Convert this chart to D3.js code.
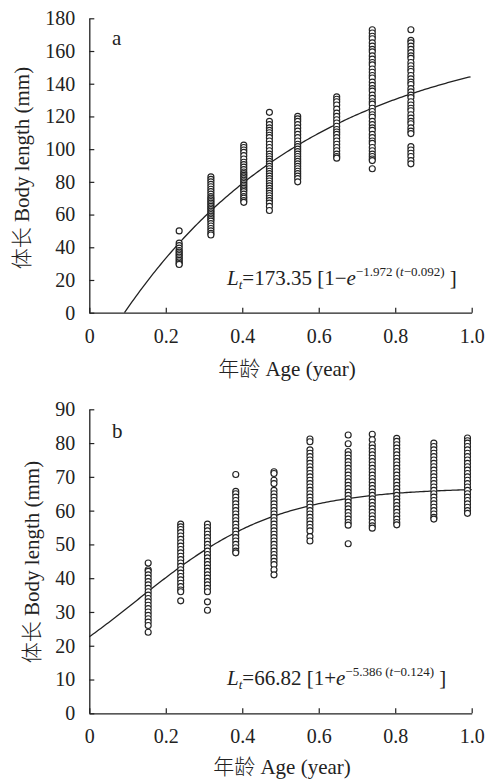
<!DOCTYPE html>
<html>
<head>
<meta charset="utf-8">
<script src="https://cdn.jsdelivr.net/npm/d3@7"></script>
<style>
  body { margin: 0; background: #fff; }
  svg text { font-family: "Liberation Serif", "Noto Sans CJK SC", serif; fill: #222; }
  .cjk { font-family: "Noto Sans CJK SC", sans-serif; font-weight: 300; }
</style>
</head>
<body>
<svg id="chart" width="487" height="781"></svg>
<script>
// x ticks shared by both panels
var ageTicks = [0, 0.2, 0.4, 0.6, 0.8, 1.0];
var ageTickLabels = ["0", "0.2", "0.4", "0.6", "0.8", "1.0"];

// panel a
var agesA = [0.235, 0.318, 0.404, 0.471, 0.545, 0.647, 0.740, 0.841];
var lengthsA = [
  [50, 42.5, 41, 39.5, 38, 37, 36, 35, 34, 33, 32, 31, 30, 29.5],
  [83, 81.5, 80, 78.5, 77, 75.5, 74, 72.5, 71, 70, 69, 68, 67, 66, 65, 64, 63, 62, 61, 60, 59, 58, 57, 56, 54.5, 53, 51.5, 50, 48.5, 47.5],
  [102.5, 101, 99.5, 98, 96, 94, 92, 90.5, 89, 87.5, 86, 85, 84, 83, 82, 81, 80, 79, 78, 77, 76, 75, 74, 72.5, 71, 70, 68.5, 67.5],
  [122.5, 117, 115, 113, 111.5, 110, 108.5, 107, 105, 103, 101, 99, 97, 95.5, 94, 92.5, 91, 89.5, 88, 86.5, 85, 83.5, 82, 80.5, 79, 77.5, 76, 74.5, 73, 71.5, 70, 68.5, 67, 65, 62.5],
  [120, 118.5, 117, 115, 113, 111, 109, 107, 105, 103, 101.5, 100, 98.5, 97, 95.5, 94, 92.5, 91, 89.5, 88, 86.5, 85, 83.5, 82, 80],
  [132, 130.5, 129, 127, 124.5, 122, 120, 118, 116, 114, 112, 110.5, 109, 107, 105, 103, 101, 99, 97, 95.5, 94.5],
  [173, 171, 169, 167.5, 165, 163, 161, 159.5, 157, 155, 153, 151.5, 149, 147, 145, 143.5, 141, 139, 137, 135.5, 133, 131, 129, 127.5, 125, 123, 121, 119.5, 117, 115, 113, 111.5, 109, 107, 105, 103.5, 101, 99, 97, 95.5, 94, 93, 88],
  [173, 166.5, 165, 163, 161, 159, 157, 155.5, 153, 151, 149, 147.5, 145, 143, 141, 139.5, 137, 135, 133, 131.5, 129, 127, 125, 123.5, 121, 119, 117, 115.5, 113, 111, 109.5, 101.5, 99.5, 97.5, 95.5, 93, 91]
];
var yTicksA = [0, 20, 40, 60, 80, 100, 120, 140, 160, 180];
// von Bertalanffy fit printed on panel a
var vbA = { Linf: 173.35, k: 1.972, t0: 0.092 };

// panel b
var agesB = [0.154, 0.239, 0.309, 0.383, 0.483, 0.577, 0.677, 0.740, 0.804, 0.901, 0.989];
var lengthsB = [
  [44.5, 42.5, 42, 41, 40, 39, 38, 37, 36, 35, 34, 33, 32, 31, 30, 29, 28, 27, 26, 24],
  [56, 55.2, 54.4, 53.5, 52.5, 51.5, 50.5, 49.5, 48.5, 47.5, 46.5, 45.5, 44.5, 43.5, 42.5, 41.5, 40.5, 39.5, 38.5, 37.5, 36.5, 36, 33.3],
  [56, 55, 54, 53, 52, 51, 50, 49, 48, 47, 46, 45, 44, 43, 42, 41, 40, 39, 38, 37, 36, 33, 30.5],
  [70.7, 65.7, 65, 64, 63, 62, 61, 60, 59, 58, 57, 56, 55, 54, 53, 52, 51, 50, 49, 48, 47.5],
  [71.5, 71, 69, 68, 66, 65, 64, 63, 62, 61, 60, 59, 58, 57, 56, 55, 54, 53, 52, 51, 50, 49, 48, 47, 46, 45, 44, 42.5, 41],
  [81.2, 80.4, 78, 77, 76, 75, 74, 73, 72, 71, 70, 69, 68, 67, 66, 65, 64, 63, 62, 61, 60, 59, 58, 57, 56, 55, 54, 52.3, 51],
  [82.4, 79.8, 77.5, 76.5, 75.5, 74.5, 73.5, 72.5, 71.5, 70.5, 69.5, 68.5, 67.5, 66.5, 65.5, 64.5, 63.5, 62.5, 61.5, 60.5, 59.5, 58.5, 57.5, 56.5, 55.7, 50.2],
  [82.6, 81, 79.5, 78.5, 77.5, 76.5, 75.5, 74.5, 73.5, 72.5, 71.5, 70.5, 69.5, 68.5, 67.5, 66.5, 65.5, 64.5, 63.5, 62.5, 61.5, 60.5, 59.5, 58.5, 57.5, 56.5, 55.5, 54.8],
  [81.4, 80.5, 79.5, 78.5, 77.5, 76.5, 75.5, 74.5, 73.5, 72.5, 71.5, 70.5, 69.5, 68.5, 67.5, 66.5, 65.5, 64.5, 63.5, 62.5, 61.5, 60.5, 59.5, 58.5, 57.5, 56.5, 55.8],
  [80, 79, 78, 77, 76, 75, 74, 73, 72, 71, 70, 69, 68, 67, 66, 65, 64, 63, 62, 61, 60, 59, 58, 57.5],
  [81.5, 80.7, 80, 79, 78, 77, 76, 75, 74, 73, 72, 71, 70, 69, 68, 67, 66, 65, 64, 63, 62, 61, 60, 59.2]
];
var yTicksB = [0, 10, 20, 30, 40, 50, 60, 70, 80, 90];
// logistic fit printed on panel b
var lgB = { Linf: 66.82, k: 5.386, t0: 0.124 };

(function () {
  var svg = d3.select("#chart");

  function vonB(p) {
    return function (t) { return p.Linf * (1 - Math.exp(-p.k * (t - p.t0))); };
  }
  function logistic(p) {
    return function (t) { return p.Linf / (1 + Math.exp(-p.k * (t - p.t0))); };
  }

  // mixed chinese / latin title
  function title(sel, zh, en) {
    sel.append("tspan").attr("class", "cjk").text(zh);
    sel.append("tspan").text(" " + en);
  }

  function drawPanel(o) {
    var x = d3.scaleLinear().domain([0, 1]).range([89.3, 471.7]);
    var y = d3.scaleLinear().domain([0, o.yMax]).range([o.bottom, o.top]);
    var g = svg.append("g");

    var xAxis = d3.axisBottom(x).tickValues(ageTicks)
      .tickFormat(function (d, i) { return ageTickLabels[i]; })
      .tickSizeInner(-5).tickSizeOuter(0).tickPadding(16);
    var yAxis = d3.axisLeft(y).tickValues(o.yTicks)
      .tickFormat(d3.format("d"))
      .tickSizeInner(-5).tickSizeOuter(0).tickPadding(14);

    var gx = g.append("g").attr("transform", "translate(0," + o.bottom + ")").call(xAxis);
    var gy = g.append("g").attr("transform", "translate(89.3,0)").call(yAxis);
    [gx, gy].forEach(function (a) {
      a.select(".domain").attr("stroke", "#222").attr("stroke-width", 1.3);
      a.selectAll(".tick line").attr("stroke", "#222").attr("stroke-width", 1.2);
      a.selectAll(".tick text").attr("font-size", 20).attr("fill", "#222")
        .style("font-family", "'Liberation Serif', serif");
    });

    // fitted curve
    var ts = d3.range(o.tStart, 1.0001, 0.005);
    var line = d3.line()
      .x(function (t) { return x(t); })
      .y(function (t) { return y(Math.max(0, o.fn(t))); });
    g.append("path").datum(ts).attr("d", line)
      .attr("fill", "none").attr("stroke", "#222").attr("stroke-width", 1.3);

    // points
    var pts = [];
    o.ages.forEach(function (a, i) {
      o.lengths[i].forEach(function (v) { pts.push({ age: a, len: v }); });
    });
    g.selectAll("circle.pt").data(pts).enter().append("circle")
      .attr("class", "pt")
      .attr("cx", function (d) { return x(d.age); })
      .attr("cy", function (d) { return y(d.len); })
      .attr("r", 3)
      .attr("fill", "#fff")
      .attr("stroke", "#222")
      .attr("stroke-width", 1.15);

    // panel letter
    g.append("text").attr("x", 112).attr("y", o.letterY)
      .attr("font-size", 21).text(o.letter);

    // axis titles
    var yl = g.append("text")
      .attr("transform", "translate(" + o.yLabelX + "," + o.yLabelY + ") rotate(-90)")
      .attr("text-anchor", "middle").attr("dy", "0.35em")
      .attr("font-size", 21);
    title(yl, "体长", "Body length (mm)");
    var xl = g.append("text")
      .attr("x", o.xLabelX).attr("y", o.xLabelY)
      .attr("text-anchor", "middle")
      .attr("font-size", 21);
    title(xl, "年龄", "Age (year)");

    // equation
    var eq = g.append("text").attr("x", 227).attr("y", o.eqY).attr("font-size", 21);
    eq.append("tspan").attr("font-style", "italic").text("L");
    eq.append("tspan").attr("font-style", "italic").attr("font-size", 13).attr("dy", 4).text("t");
    eq.append("tspan").attr("dy", -4).text("=" + o.eqMain + " [1" + o.eqSign);
    eq.append("tspan").attr("font-style", "italic").text("e");
    eq.append("tspan").attr("font-size", 13).attr("dy", -9).text(o.eqExp1 + " (");
    eq.append("tspan").attr("font-size", 13).attr("font-style", "italic").text("t");
    eq.append("tspan").attr("font-size", 13).text(o.eqExp2 + ")");
    eq.append("tspan").attr("dy", 9).text(" ]");
  }

  drawPanel({
    yMax: 180, top: 18.3, bottom: 312.7, yTicks: yTicksA,
    ages: agesA, lengths: lengthsA,
    fn: vonB(vbA), tStart: vbA.t0,
    letter: "a", letterY: 45,
    yLabelX: 22, yLabelY: 168, xLabelX: 287, xLabelY: 376,
    eqY: 285, eqMain: "173.35", eqSign: "\u2212",
    eqExp1: "\u22121.972", eqExp2: "\u22120.092"
  });

  drawPanel({
    yMax: 90, top: 409.3, bottom: 713.3, yTicks: yTicksB,
    ages: agesB, lengths: lengthsB,
    fn: logistic(lgB), tStart: 0,
    letter: "b", letterY: 438,
    yLabelX: 32, yLabelY: 562, xLabelX: 282, xLabelY: 774,
    eqY: 685, eqMain: "66.82", eqSign: "+",
    eqExp1: "\u22125.386", eqExp2: "\u22120.124"
  });
})();
</script>
</body>
</html>
